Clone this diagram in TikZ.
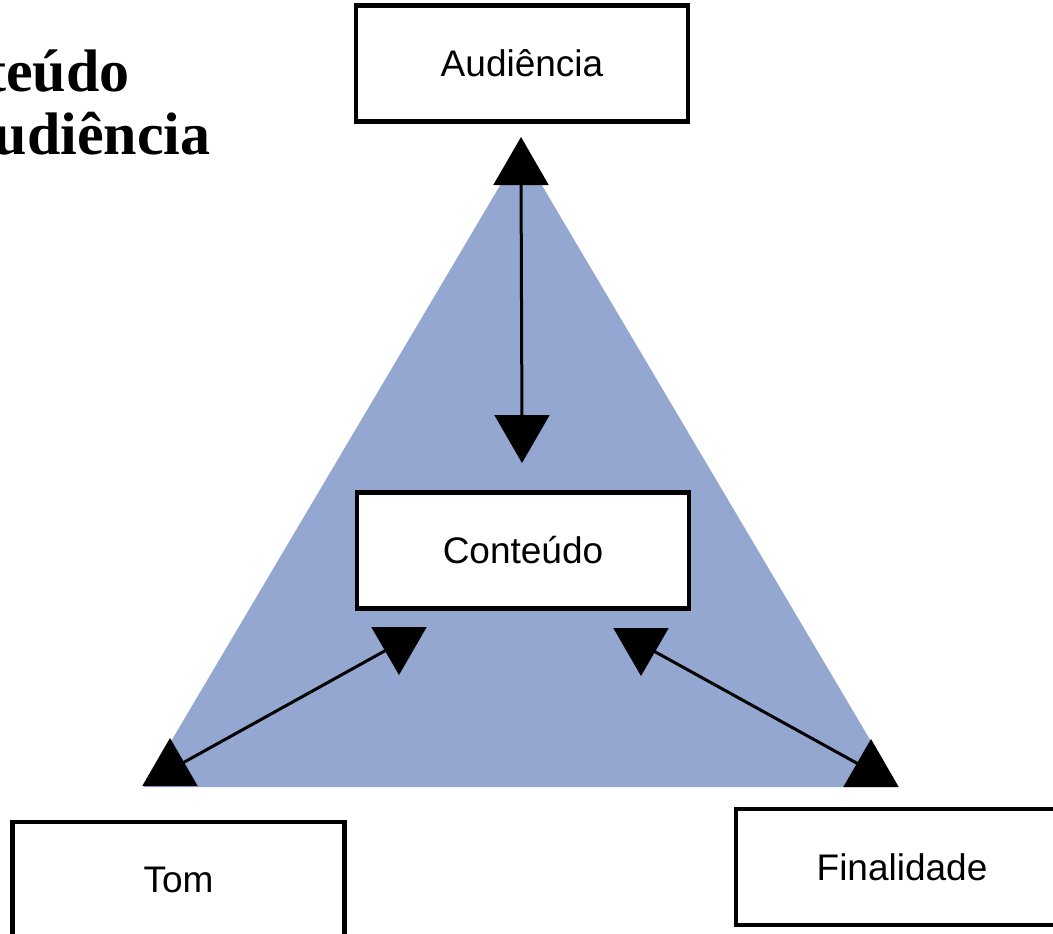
\documentclass[tikz,border=0pt]{standalone}
\usepackage{fontspec}
\setmainfont{Liberation Serif}
\setsansfont{Liberation Sans}
\usetikzlibrary{shapes.geometric}
\definecolor{tribg}{RGB}{147,167,209}
\tikzset{
  box/.style={draw=black, fill=white, line width=4.5pt, minimum width=332pt, minimum height=116pt, inner sep=0pt, font=\sffamily\fontsize{37}{44}\selectfont},
  headup/.style={regular polygon, regular polygon sides=3, fill=black, minimum size=64pt, inner sep=0pt},
  headdown/.style={headup, shape border rotate=180},
  link/.style={line width=3pt},
  title/.style={anchor=base east, font=\bfseries\fontsize{60}{64}\selectfont},
}

\begin{document}
\begin{tikzpicture}[x=1pt, y=-1pt]
  \useasboundingbox (0,0) rectangle (1053,934);

  % Background triangle
  \fill[tribg] (521,150) -- (898,787) -- (144,787) -- cycle;

  % Title, cut at the left edge
  \node[title] (tline1) at (133,92) {Conteúdo};
  \node[title] (tline2) at (214,154) {Audiência};

  % Boxes
  \node[box] (aud) at (522,63.5) {Audiência};
  \node[box] (cont) at (523,550.5) {Conteúdo};
  \node[box] (tom) at (178.5,880) {Tom};
  \node[box] (fin) at (902,867) {Finalidade};

  % Arrow heads
  \node[headup] (hAud) at (521,169) {};
  \node[headdown] (hCont) at (522,431) {};
  \node[headup] (hTom) at (170,770) {};
  \node[headdown] (hContL) at (399,643) {};
  \node[headdown] (hContR) at (641,644) {};
  \node[headup] (hFin) at (871,771) {};

  % Links
  \draw[link] (hAud.center) -- (hCont.center);
  \draw[link] (hTom.center) -- (hContL.center);
  \draw[link] (hContR.center) -- (hFin.center);
\end{tikzpicture}
\end{document}
